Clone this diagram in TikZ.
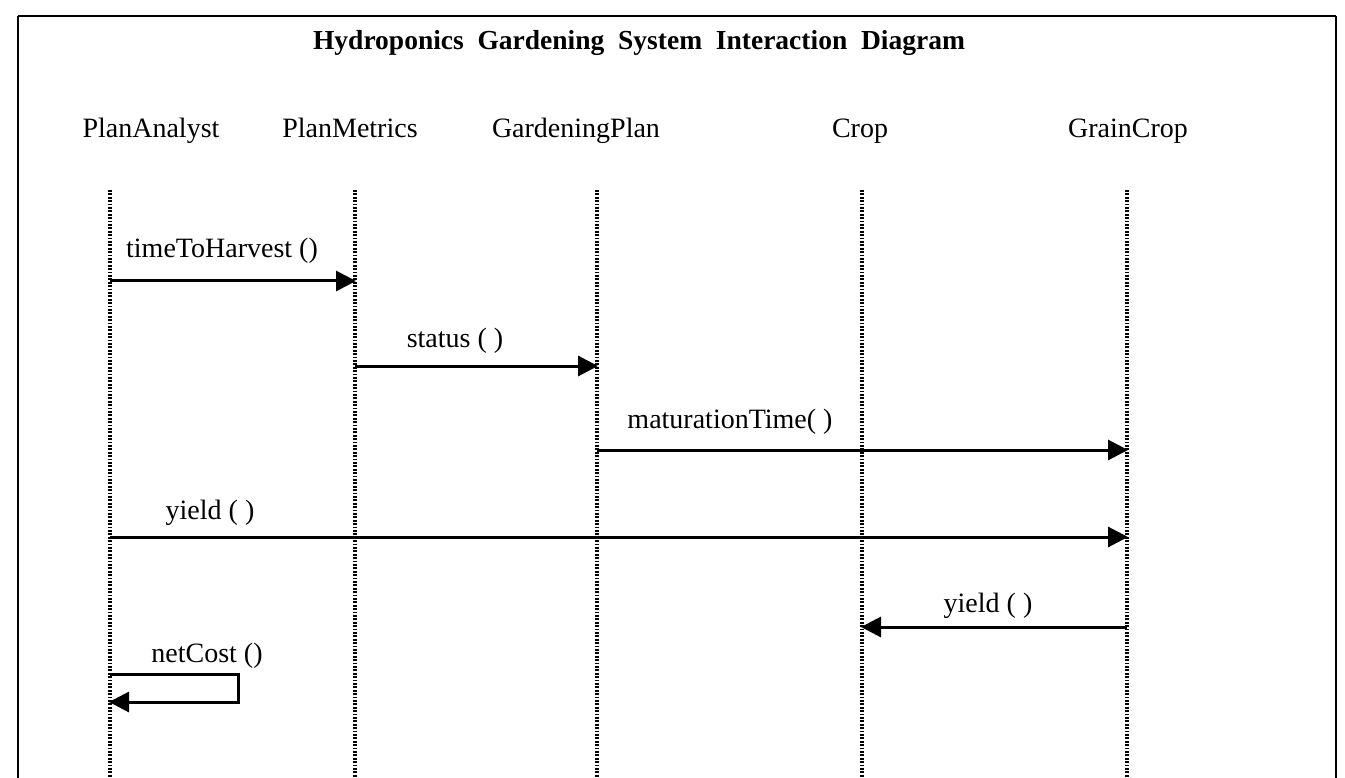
\documentclass[tikz,border=0pt]{standalone}
\usepackage{fontspec}
\setmainfont{Liberation Serif}
\usetikzlibrary{arrows.meta}
\begin{document}
\begin{tikzpicture}[x=1pt,y=-1pt,
  lbl/.style={font=\fontsize{28}{32}\selectfont, inner sep=0pt, anchor=base},
  hdr/.style={lbl},
  lifeline/.style={line width=3.4pt, dash pattern=on 1.8pt off 1.6pt},
  msg/.style={line width=3pt, -{Triangle[length=20pt,width=20pt]}, shorten >=-1pt},
  frame/.style={line width=2.6pt}]
\useasboundingbox (0,0) rectangle (1345,778);
\begin{scope}
\clip (0,0) rectangle (1345,778);
% outer frame, open at the bottom edge
\draw[frame] (18,16) -- (1336,16);
\draw[frame] (18,16) -- (18,790);
\draw[frame] (1336,16) -- (1336,790);

% title
\node[font=\fontsize{27.5}{30}\selectfont\bfseries, inner sep=0pt, anchor=base] (title) at (639,50)
  {Hydroponics\ \ Gardening\ \ System\ \ Interaction\ \ Diagram};

% object headers
\node[hdr] (hA) at (151,138) {PlanAnalyst};
\node[hdr] (hM) at (350,138) {PlanMetrics};
\node[hdr] (hG) at (576,138) {GardeningPlan};
\node[hdr] (hC) at (860,138) {Crop};
\node[hdr] (hR) at (1128,138) {GrainCrop};

% lifelines
\coordinate (lA) at (110,190); \coordinate (lAb) at (110,790);
\coordinate (lM) at (355,190); \coordinate (lMb) at (355,790);
\coordinate (lG) at (597,190); \coordinate (lGb) at (597,790);
\coordinate (lC) at (862,190); \coordinate (lCb) at (862,790);
\coordinate (lR) at (1127,190); \coordinate (lRb) at (1127,790);
\foreach \t/\b in {lA/lAb,lM/lMb,lG/lGb,lC/lCb,lR/lRb}
  \draw[lifeline] (\t) -- (\b);

% message 1: PlanAnalyst -> PlanMetrics
\coordinate (m1s) at (110,281); \coordinate (m1e) at (355,281);
\draw[msg] (m1s) -- (m1e);
\node[lbl] (t1) at (222,258) {timeToHarvest ()};

% message 2: PlanMetrics -> GardeningPlan
\coordinate (m2s) at (355,366); \coordinate (m2e) at (597,366);
\draw[msg] (m2s) -- (m2e);
\node[lbl] (t2) at (455,347) {status ( )};

% message 3: GardeningPlan -> GrainCrop
\coordinate (m3s) at (597,450); \coordinate (m3e) at (1127,450);
\draw[msg] (m3s) -- (m3e);
\node[lbl] (t3) at (730,428) {maturationTime( )};

% message 4: PlanAnalyst -> GrainCrop
\coordinate (m4s) at (110,537); \coordinate (m4e) at (1127,537);
\draw[msg] (m4s) -- (m4e);
\node[lbl] (t4) at (210,519) {yield ( )};

% message 5: GrainCrop -> Crop
\coordinate (m5s) at (1127,627); \coordinate (m5e) at (862,627);
\draw[msg] (m5s) -- (m5e);
\node[lbl] (t5) at (988,612) {yield ( )};

% message 6: PlanAnalyst calls itself
\coordinate (m6s) at (110,674); \coordinate (m6t) at (238,674);
\coordinate (m6u) at (238,702); \coordinate (m6e) at (110,702);
\draw[msg] (m6s) -- (m6t) -- (m6u) -- (m6e);
\node[lbl] (t6) at (207,662) {netCost ()};
\end{scope}
\end{tikzpicture}
\end{document}
